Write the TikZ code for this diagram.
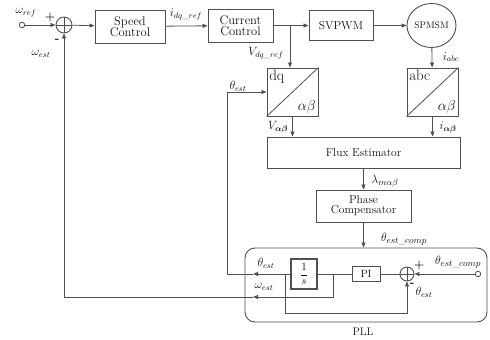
\documentclass[tikz,border=0pt]{standalone}
\usepackage{amsmath,bm}
\usetikzlibrary{arrows.meta,shapes.geometric}
\definecolor{lc}{RGB}{80,80,80}
\definecolor{tc}{RGB}{20,20,20}
\newcommand{\bfs}{\fontsize{12.5}{14}\selectfont}
\newcommand{\lfs}{\fontsize{11.5}{13}\selectfont}
\begin{document}
\begin{tikzpicture}[x=1pt,y=-1pt,
  blk/.style={draw=lc, line width=0.9pt, fill=white, font=\bfs, text=tc, align=center, inner sep=0pt},
  ln/.style={draw=lc, line width=0.8pt},
  arr/.style={ln, -{Triangle[length=5pt,width=4pt]}},
  lab/.style={font=\lfs, text=tc, inner sep=0pt},
  sumc/.style={circle, draw=lc, line width=0.9pt, minimum size=16pt, inner sep=0pt,
     path picture={\draw[lc,line width=0.8pt] (path picture bounding box.north) -- (path picture bounding box.south)
     (path picture bounding box.west) -- (path picture bounding box.east);}},
  inc/.style={circle, draw=lc, line width=0.8pt, fill=white, minimum size=5.5pt, inner sep=0pt}
]
\useasboundingbox (0,0) rectangle (490,340);

% top row
\node[inc] (in1) at (22,25) {};
\node[sumc] (sum1) at (64,25) {};
\node[blk, minimum width=70pt, minimum height=33pt] (speed) at (130,26.5) {Speed\\[-3pt]Control};
\node[blk, minimum width=65pt, minimum height=33pt] (cur) at (240.5,25.5) {Current\\[-3pt]Control};
\node[blk, minimum width=64pt, minimum height=30pt, font=\fontsize{11.5}{13}\selectfont] (svpwm) at (341,25.5) {SVPWM};
\node[blk, ellipse, minimum width=49pt, minimum height=44pt, font=\fontsize{9.5}{10}\selectfont] (motor) at (431.5,25.5) {SPMSM};

% transforms
\node[blk, minimum width=51pt, minimum height=48pt] (dq) at (292.5,92) {};
\draw[lc, line width=0.8pt] (dq.south west) -- (dq.north east);
\node[font=\fontsize{15}{16}\selectfont, text=tc, anchor=north west, inner sep=2.5pt] (dqt) at (dq.north west) {dq};
\node[font=\fontsize{15}{16}\selectfont, text=tc, anchor=south east, inner sep=2.5pt] (dqb) at (dq.south east) {$\alpha\beta$};
\node[blk, minimum width=51pt, minimum height=48pt] (abc) at (432.5,92) {};
\draw[lc, line width=0.8pt] (abc.south west) -- (abc.north east);
\node[font=\fontsize{15}{16}\selectfont, text=tc, anchor=north west, inner sep=2.5pt] (abct) at (abc.north west) {abc};
\node[font=\fontsize{15}{16}\selectfont, text=tc, anchor=south east, inner sep=2.5pt] (abcb) at (abc.south east) {$\alpha\beta$};

\node[blk, minimum width=193pt, minimum height=31pt, font=\fontsize{11.5}{13}\selectfont] (flux) at (363.5,152.5) {Flux Estimator};
\node[blk, minimum width=95pt, minimum height=32pt, font=\fontsize{11.5}{13}\selectfont] (phase) at (363.5,206) {Phase\\[-3pt]Compensator};

% PLL
\node[draw=lc, line width=0.9pt, rounded corners=10pt, minimum width=242pt, minimum height=74pt] (pll) at (366,285) {};
\node[lab, font=\fontsize{11}{12}\selectfont] (pllt) at (363,332) {PLL};
\node[blk, line width=1.4pt, minimum width=26pt, minimum height=30pt, font=\fontsize{11}{12}\selectfont] (ones) at (304,274) {$\dfrac{1}{s}$};
\node[blk, minimum width=28pt, minimum height=15pt, font=\fontsize{10.5}{11}\selectfont] (pi) at (366,274) {PI};
\node[sumc, minimum size=14pt] (sum2) at (407,274) {};
\node[inc] (in2) at (478,274) {};

% coordinates
\coordinate (b1) at (290,25.5);
\coordinate (b2) at (333,274);
\coordinate (b3) at (285,274);
\coordinate (ta) at (253,274);
\coordinate (tfb) at (227,274);
\coordinate (wa) at (253,297);
\coordinate (wfb) at (64,297);

% connectors top
\draw[arr] (in1) -- (sum1);
\draw[arr] (sum1) -- (speed);
\draw[arr] (speed) -- (cur);
\draw[arr] (cur) -- (svpwm);
\draw[arr] (b1) -- (b1 |- dq.north);
\draw[arr] (svpwm) -- (motor);
\draw[arr] (motor) -- (abc);
\draw[arr] (dq.south) -- (dq.south |- flux.north);
\draw[arr] (abc.south) -- (abc.south |- flux.north);
\draw[arr] (flux) -- (phase);
\draw[arr] (phase.south) -- (phase.south |- pll.north);

% PLL internals
\draw[arr] (in2) -- (sum2);
\draw[ln] (sum2) -- (pi);
\draw[ln] (pi) -- (ones);
\draw[arr] (ones) -- (ta);
\draw[ln] (ta) -- (tfb);
\draw[arr] (tfb) |- (dq.west);
\draw[arr] (b2) |- (wa);
\draw[ln] (wa) -- (wfb);
\draw[arr] (wfb) -- (sum1);
\draw[arr] (b3) -- (285,313) -| (sum2.south);

% labels
\node[lab] (lwref) at (26,13) {$\omega_{ref}$};
\node[lab, font=\bfseries\fontsize{12}{13}\selectfont] (lp1) at (50,18) {+};
\node[lab, font=\bfseries\fontsize{12}{13}\selectfont] (lm1) at (57,41) {-};
\node[lab] (lwest) at (41,54) {$\omega_{est}$};
\node[lab] (lidq) at (186,14) {$i_{dq\_ref}$};
\node[lab] (lvdq) at (266,53) {$V_{dq\_ref}$};
\node[lab] (lth1) at (238,86) {$\theta_{est}$};
\node[lab] (liabc) at (451,57) {$i_{abc}$};
\node[lab] (lva) at (278,127) {$V_{\bm{\alpha\beta}}$};
\node[lab] (lia) at (448,127) {$i_{\bm{\alpha\beta}}$};
\node[lab, font=\fontsize{12.5}{14}\selectfont] (llam) at (385,181) {$\lambda_{m\alpha\beta}$};
\node[lab, font=\fontsize{12.5}{14}\selectfont] (lthc) at (404,239) {$\theta_{est\_comp}$};
\node[lab, font=\fontsize{12.5}{14}\selectfont] (lthc2) at (458,262) {$\theta_{est\_comp}$};
\node[lab, font=\bfseries\fontsize{12}{13}\selectfont] (lp2) at (419,266) {+};
\node[lab, font=\bfseries\fontsize{12}{13}\selectfont] (lm2) at (412,285) {-};
\node[lab] (lth3) at (424,292) {$\theta_{est}$};
\node[lab] (lth2) at (266,263) {$\theta_{est}$};
\node[lab] (lw2) at (264,287) {$\omega_{est}$};
\end{tikzpicture}
\end{document}
